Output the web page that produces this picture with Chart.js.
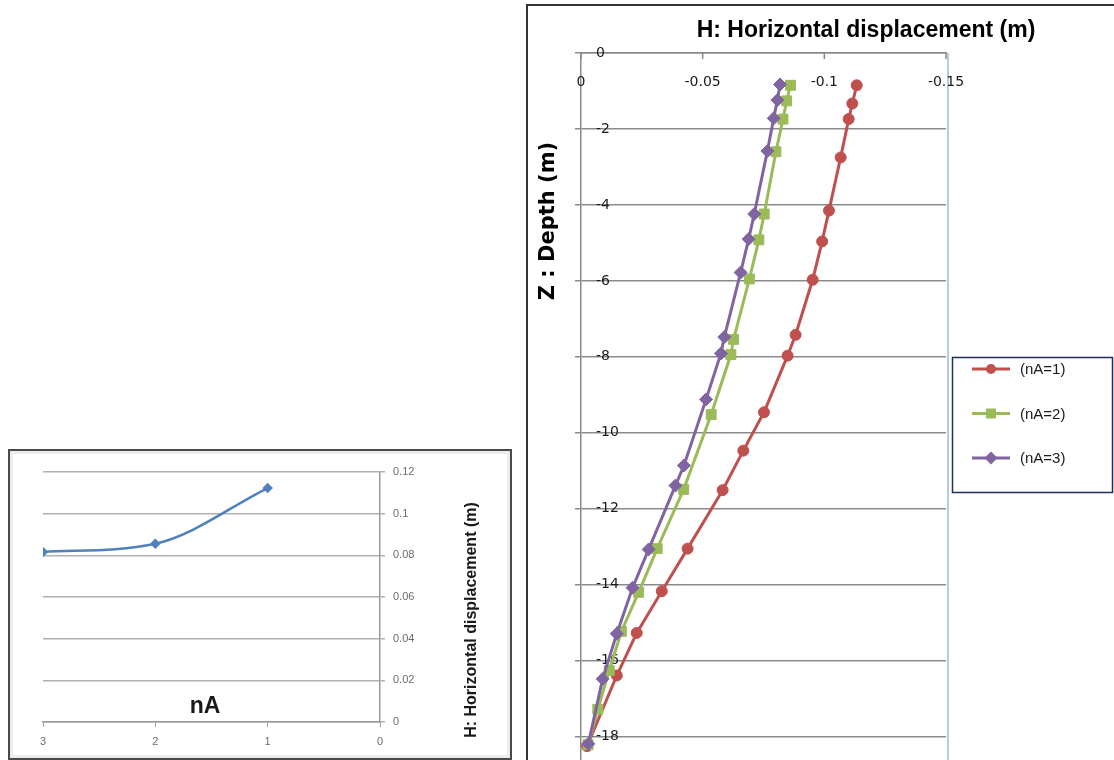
<!DOCTYPE html>
<html>
<head>
<meta charset="utf-8">
<script src="https://cdn.jsdelivr.net/npm/chart.js@4.4.1/dist/chart.umd.min.js"></script>
<style>
    html, body { margin: 0; padding: 0; background: #fff; overflow: hidden; width: 1114px; height: 760px; }
    #leftFrame { position: absolute; left: 8px; top: 449px; width: 500px; height: 307px; border: 2px solid #4a4a4a; box-shadow: inset 0 0 0 3px #ececec; }
    #rightFrame { position: absolute; left: 526px; top: 4px; width: 588px; height: 760px; border-left: 2px solid #333; border-top: 2px solid #333; overflow: hidden; }
    canvas { position: absolute; left: 0; top: 0; }
</style>
</head>
<body>
<div id="leftFrame"><canvas id="nAChart" width="500" height="307"></canvas></div>
<div id="rightFrame"><canvas id="depthChart" width="586" height="830"></canvas></div>
<script>
// small chart: max displacement vs nA
var nAValues = [3, 2, 1];
var maxDisp = [0.0816, 0.0856, 0.1123];

// depth profiles (x = horizontal displacement, y = depth)
var dispA1 = [-0.1133, -0.1115, -0.1100, -0.1067, -0.1019, -0.0991, -0.0952, -0.0882, -0.0849, -0.0752, -0.0667, -0.0582, -0.0438, -0.0332, -0.0229, -0.0147, -0.0025];
var depthA1 = [-0.85, -1.33, -1.74, -2.75, -4.15, -4.96, -5.97, -7.42, -7.97, -9.46, -10.47, -11.51, -13.05, -14.17, -15.27, -16.39, -18.25];
var dispA2 = [-0.0861, -0.0845, -0.0830, -0.0801, -0.0753, -0.0731, -0.0692, -0.0627, -0.0616, -0.0535, -0.0422, -0.0313, -0.0237, -0.0166, -0.0116, -0.0069, -0.0029];
var depthA2 = [-0.85, -1.26, -1.74, -2.60, -4.24, -4.92, -5.95, -7.54, -7.94, -9.52, -11.49, -13.05, -14.20, -15.23, -16.26, -17.28, -18.21];
var dispA3 = [-0.0818, -0.0807, -0.0792, -0.0766, -0.0712, -0.0689, -0.0656, -0.0589, -0.0575, -0.0514, -0.0423, -0.0388, -0.0278, -0.0212, -0.0147, -0.0089, -0.0030];
var depthA3 = [-0.83, -1.24, -1.72, -2.58, -4.24, -4.90, -5.78, -7.48, -7.91, -9.12, -10.86, -11.39, -13.07, -14.08, -15.29, -16.48, -18.19];

var seriesNames = ['(nA=1)', '(nA=2)', '(nA=3)'];
var xTickValues = [0, -0.05, -0.1, -0.15];
var xTickLabels = ['0', '-0.05', '-0.1', '-0.15'];

function pairs(xs, ys) {
    return xs.map(function (v, i) { return { x: v, y: ys[i] }; });
}

function marker(ctx, style, x, y, r, color) {
    ctx.fillStyle = color;
    ctx.beginPath();
    if (style === 'circle') {
        ctx.arc(x, y, r, 0, Math.PI * 2);
    } else if (style === 'rect') {
        ctx.rect(x - r, y - r, 2 * r, 2 * r);
    } else {
        ctx.moveTo(x, y - r); ctx.lineTo(x + r, y); ctx.lineTo(x, y + r); ctx.lineTo(x - r, y); ctx.closePath();
    }
    ctx.fill();
}

document.addEventListener('DOMContentLoaded', function () {
    Chart.defaults.font.family = "'Liberation Sans', Arial, sans-serif";

    // Left chart
    var nAOverlay = {
        id: 'nAOverlay',
        afterDraw: function (chart) {
            var ctx = chart.ctx;
            ctx.save();
            ctx.fillStyle = '#1a1a1a';
            ctx.font = "bold 23px 'Liberation Sans', Arial, sans-serif";
            ctx.textAlign = 'center';
            ctx.textBaseline = 'middle';
            ctx.fillText('nA', 195, 256);
            ctx.translate(462, 169);
            ctx.rotate(-Math.PI / 2);
            ctx.font = "bold 16px 'Liberation Sans', Arial, sans-serif";
            ctx.fillText('H: Horizontal displacement (m)', 0, 0);
            ctx.restore();
        }
    };

    new Chart(document.getElementById('nAChart').getContext('2d'), {
        type: 'scatter',
        data: {
            datasets: [{
                data: pairs(nAValues, maxDisp),
                showLine: true,
                cubicInterpolationMode: 'monotone',
                borderColor: '#4f81bd',
                backgroundColor: '#4f81bd',
                borderWidth: 2.5,
                pointStyle: 'rectRot',
                pointRadius: 3.5
            }]
        },
        options: {
            responsive: false,
            animation: false,
            layout: { padding: { left: 33, top: 21, right: 0, bottom: 0 } },
            plugins: { legend: { display: false }, tooltip: { enabled: false } },
            scales: {
                x: {
                    type: 'linear', position: 'bottom', min: 0, max: 3, reverse: true,
                    ticks: { stepSize: 1, color: '#6b6b6b', font: { size: 11 }, padding: 8 },
                    grid: { drawOnChartArea: false, drawTicks: true, tickLength: 5, color: '#a0a0a0' },
                    border: { color: '#9a9a9a', width: 1.5 },
                    afterFit: function (s) { s.height = 36; }
                },
                y: {
                    position: 'right', min: 0, max: 0.12,
                    ticks: {
                        stepSize: 0.02, color: '#6b6b6b', font: { size: 11 }, padding: 8,
                        callback: function (v) { return String(+v.toFixed(2)); }
                    },
                    grid: { color: '#b0b0b0', lineWidth: 1.5, tickLength: 5 },
                    border: { color: '#9a9a9a', width: 1.5 },
                    afterFit: function (s) { s.width = 130; }
                }
            }
        },
        plugins: [nAOverlay]
    });

    // Right chart
    var colors = ['#c0504d', '#9bbb59', '#8064a2'];
    var styles = ['circle', 'rect', 'rectRot'];

    var depthOverlay = {
        id: 'depthOverlay',
        afterDraw: function (chart) {
            var ctx = chart.ctx, area = chart.chartArea, xs = chart.scales.x;
            ctx.save();
            // plot area right edge
            ctx.strokeStyle = '#9db8da';
            ctx.lineWidth = 1.5;
            ctx.beginPath();
            ctx.moveTo(area.right + 2, area.top);
            ctx.lineTo(area.right + 2, chart.height);
            ctx.stroke();

            // x ticks below the top axis
            ctx.strokeStyle = '#8a8a8a';
            ctx.fillStyle = '#1a1a1a';
            ctx.font = "14px 'DejaVu Sans', sans-serif";
            ctx.textAlign = 'center';
            ctx.textBaseline = 'middle';
            xTickValues.forEach(function (v, i) {
                var px = xs.getPixelForValue(v);
                ctx.beginPath();
                ctx.moveTo(px, area.top);
                ctx.lineTo(px, area.top + 6);
                ctx.stroke();
                ctx.fillText(xTickLabels[i], px, area.top + 29);
            });

            // titles
            ctx.font = "bold 23px 'Liberation Sans', Arial, sans-serif";
            ctx.fillStyle = '#000';
            ctx.fillText('H: Horizontal displacement (m)', 338, 25);
            ctx.save();
            ctx.translate(21, 215);
            ctx.rotate(-Math.PI / 2);
            ctx.font = "bold 21px 'DejaVu Sans', sans-serif";
            ctx.fillText('Z : Depth (m)', 0, 0);
            ctx.restore();

            // legend
            ctx.strokeStyle = '#1f2f5c';
            ctx.lineWidth = 1.5;
            ctx.strokeRect(424.5, 351.5, 160, 135);
            ctx.font = "15px 'Liberation Sans', Arial, sans-serif";
            ctx.textAlign = 'left';
            seriesNames.forEach(function (name, i) {
                var y = 363 + i * 44.5;
                ctx.strokeStyle = colors[i];
                ctx.lineWidth = 3;
                ctx.beginPath();
                ctx.moveTo(444, y);
                ctx.lineTo(482, y);
                ctx.stroke();
                var r = i === 2 ? 6.5 : 5;
                marker(ctx, styles[i], 463, y, r, colors[i]);
                ctx.fillStyle = '#1a1a1a';
                ctx.fillText(name, 492, y + 1);
            });
            ctx.restore();
        }
    };

    function profile(i, xs, ys, radius) {
        return {
            label: seriesNames[i],
            data: pairs(xs, ys),
            showLine: true,
            order: 3 - i,
            borderColor: colors[i],
            backgroundColor: colors[i],
            borderWidth: 3,
            pointStyle: styles[i],
            pointRadius: radius,
            pointBorderWidth: 1,
            clip: false
        };
    }

    new Chart(document.getElementById('depthChart').getContext('2d'), {
        type: 'scatter',
        data: {
            datasets: [
                profile(0, dispA1, depthA1, 5.5),
                profile(1, dispA2, depthA2, 7),
                profile(2, dispA3, depthA3, 6.5)
            ]
        },
        options: {
            responsive: false,
            animation: false,
            layout: { padding: { left: 0, top: 0, right: 168, bottom: 11 } },
            plugins: { legend: { display: false }, tooltip: { enabled: false } },
            scales: {
                x: {
                    type: 'linear', position: 'top', min: -0.15, max: 0, reverse: true,
                    ticks: { display: false },
                    grid: { display: false },
                    border: { color: '#8a8a8a', width: 1.5 },
                    afterFit: function (s) { s.height = 47; }
                },
                y: {
                    min: -20, max: 0,
                    ticks: { stepSize: 2, mirror: true, padding: 15, color: '#1a1a1a', font: { family: "'DejaVu Sans', sans-serif", size: 14 } },
                    grid: { color: '#8a8a8a', lineWidth: 1.5, tickLength: 6 },
                    border: { color: '#8a8a8a', width: 1.5 },
                    afterFit: function (s) { s.width = 53; }
                }
            }
        },
        plugins: [depthOverlay]
    });
});
</script>
</body>
</html>
